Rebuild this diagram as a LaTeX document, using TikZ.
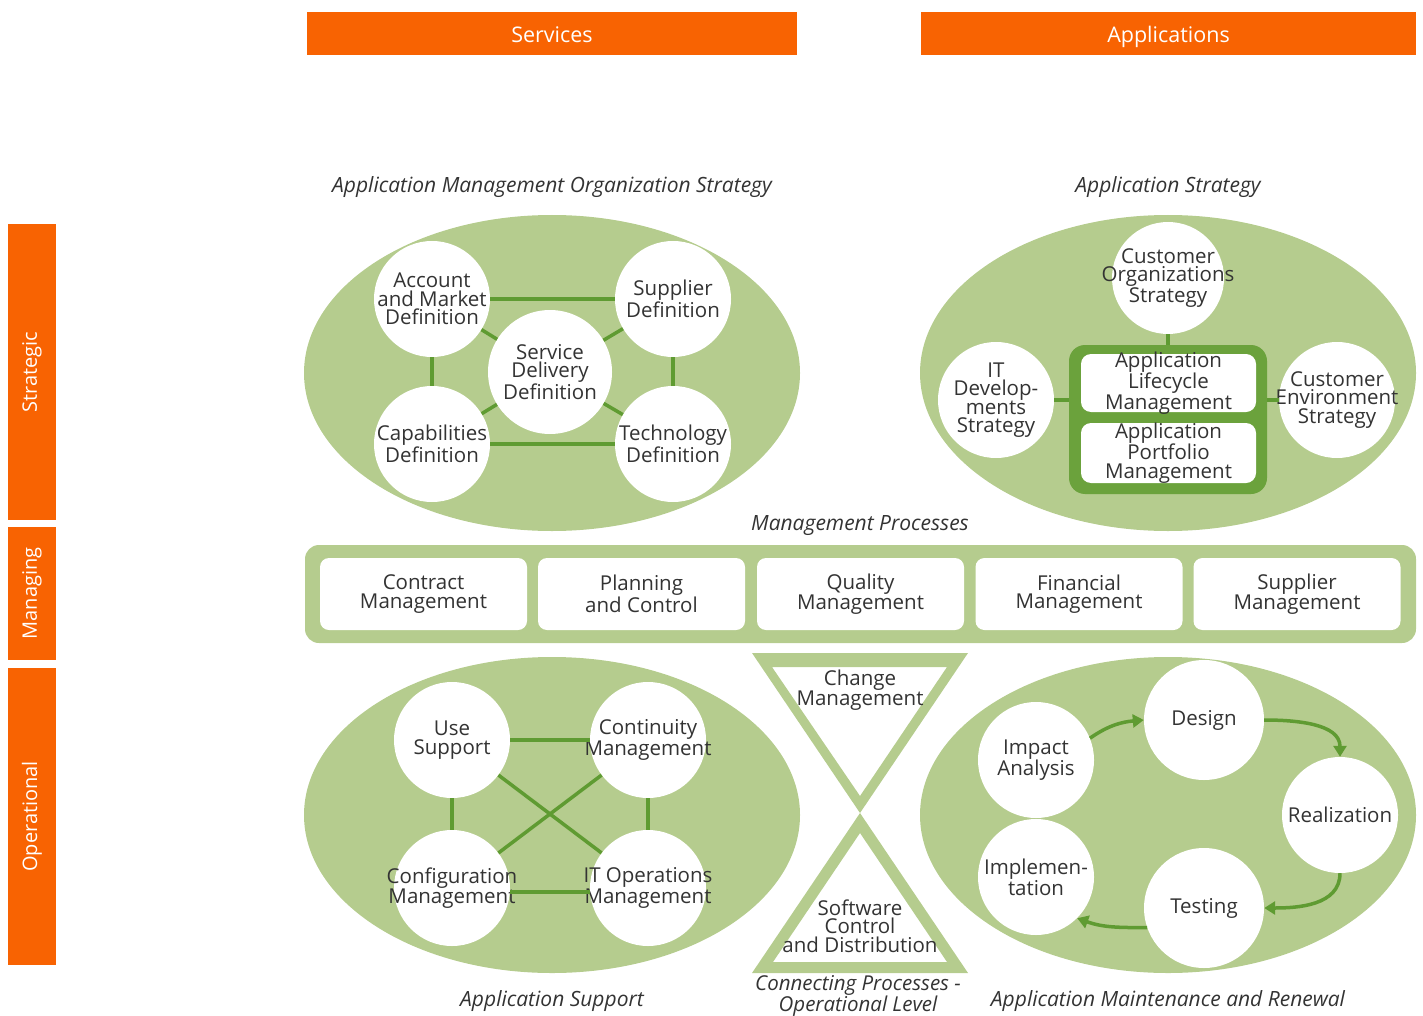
\documentclass[tikz,border=0pt]{standalone}
\usepackage{fontspec}
\setmainfont{Open Sans}
\usetikzlibrary{arrows.meta,shapes.geometric}
\definecolor{orng}{HTML}{F86302}
\definecolor{lgreen}{HTML}{B5CC8E}
\definecolor{dgreen}{HTML}{5F9B32}
\definecolor{bgreen}{HTML}{6BA23C}
\definecolor{txt}{HTML}{333333}
\begin{document}
\begin{tikzpicture}[x=1pt,y=-1pt,
  font=\fontsize{20.5}{18.5}\selectfont, text=txt,
  hdr/.style={fill=orng, minimum height=43pt, inner sep=0pt, text=white, text height=20pt, text depth=1.5pt, font=\fontsize{21.5}{20}\selectfont},
  side/.style={fill=orng, minimum height=48pt, inner sep=0pt, rotate=90, text=white, font=\fontsize{20}{20}\selectfont},
  ttl/.style={font=\fontsize{21}{17.5}\selectfont\itshape, align=center},
  ell/.style={ellipse, fill=lgreen, minimum width=496pt, minimum height=316pt, inner sep=0pt},
  circ/.style={circle, fill=white, minimum size=116pt, inner sep=0pt, label={[align=center, text=txt]center:#1}},
  pbox/.style={rounded corners=9pt, fill=white, minimum width=207pt, minimum height=72pt, inner sep=0pt, label={[align=center, text=txt]center:#1}},
  link/.style={draw=dgreen, line width=3.5pt},
  arr/.style={draw=dgreen, line width=3.5pt, -{Triangle[length=11pt,width=13pt]}}
]
\useasboundingbox (0,0) rectangle (1423,1016);

% headers
\node[hdr, minimum width=490pt] (services) at (552,33.5) {Services};
\node[hdr, minimum width=495pt] (apps) at (1168.5,33.5) {Applications};
\node[side, minimum width=296pt] (strat) at (32,372) {Strategic};
\node[side, minimum width=133pt] (manag) at (32,593.5) {Managing};
\node[side, minimum width=297pt] (oper) at (32,816.5) {Operational};

% titles
\node[ttl] (t1) at (552,187) {Application Management Organization Strategy};
\node[ttl] (t2) at (1168,187) {Application Strategy};
\node[ttl] (t3) at (860,526) {Management Processes};
\node[ttl] (t4) at (552,1001) {Application Support};
\node[ttl, font=\fontsize{20.5}{16}\selectfont\itshape] (t5) at (858,996) {Connecting Processes -\\Operational Level};
\node[ttl] (t6) at (1168,1001) {Application Maintenance and Renewal};

% ellipses
\node[ell] (e1) at (552,373) {};
\node[ell] (e2) at (1168,373) {};
\node[ell] (e3) at (552,815) {};
\node[ell] (e4) at (1168,815) {};

% top-left circles
\node[circ={Account\\and Market\\Definition}] (acc) at (432,299) {};
\node[circ={Supplier\\Definition}] (sup) at (673,299) {};
\node[circ={Service\\Delivery\\Definition}, minimum size=124pt] (sdd) at (550,372) {};
\node[circ={Capabilities\\Definition}] (cap) at (432,444) {};
\node[circ={Technology\\Definition}] (tec) at (673,444) {};
\draw[link] (acc) -- (sup);
\draw[link] (cap) -- (tec);
\draw[link] (acc) -- (cap);
\draw[link] (sup) -- (tec);
\draw[link] (sdd) -- (acc);
\draw[link] (sdd) -- (sup);
\draw[link] (sdd) -- (cap);
\draw[link] (sdd) -- (tec);

% top-right
\node[circ={Customer\\Organizations\\Strategy}, minimum size=112pt] (cos) at (1168,278) {};
\node[circ={IT\\Develop-\\ments\\Strategy}] (itd) at (996,400) {};
\node[circ={Customer\\Environment\\Strategy}] (ces) at (1337,400) {};
\node[rounded corners=16pt, fill=bgreen, minimum width=198pt, minimum height=149pt] (cbox) at (1168,419.5) {};
\node[pbox={Application\\Lifecycle\\Management}, rounded corners=10pt, minimum width=175pt, minimum height=58pt] (alm) at (1168.5,383) {};
\node[pbox={Application\\Portfolio\\Management}, rounded corners=10pt, minimum width=175pt, minimum height=60pt] (apm) at (1168.5,453) {};
\draw[link] (cos) -- (cos |- cbox.north);
\draw[link] (itd) -- (itd -| cbox.west);
\draw[link] (cbox.east |- ces) -- (ces);

% management processes
\node[rounded corners=14pt, fill=lgreen, minimum width=1111pt, minimum height=98pt] (mbar) at (860.5,594) {};
\node[pbox={Contract\\Management}] (p1) at (423.5,594) {};
\node[pbox={Planning\\and Control}] (p2) at (641.5,594) {};
\node[pbox={Quality\\Management}] (p3) at (860.5,594) {};
\node[pbox={Financial\\Management}] (p4) at (1079,594) {};
\node[pbox={Supplier\\Management}] (p5) at (1297,594) {};

% hourglass
\fill[lgreen, even odd rule] (752,653) -- (968,653) -- (860,813) -- cycle
  (772,667) -- (947,667) -- (860,796) -- cycle;
\fill[lgreen, even odd rule] (752,973) -- (968,973) -- (860,813) -- cycle
  (773,962) -- (947,962) -- (860,833) -- cycle;
\node[align=center] (chg) at (860,690) {Change\\Management};
\node[align=center] (scd) at (860,926) {Software\\Control\\and Distribution};

% bottom-left
\node[circ={Use\\Support}] (use) at (452,740) {};
\node[circ={Continuity\\Management}] (con) at (648,740) {};
\node[circ={Configuration\\Management}] (cfg) at (452,888) {};
\node[circ={IT Operations\\Management}] (ito) at (648,888) {};
\draw[link] (use) -- (con);
\draw[link] (cfg.east |- 0,892) -- (ito.west |- 0,892);
\draw[link] (use) -- (cfg);
\draw[link] (con) -- (ito);
\draw[link] (use) -- (ito);
\draw[link] (con) -- (cfg);

% bottom-right
\node[circ={Impact\\Analysis}] (imp) at (1036,760) {};
\node[circ={Design}, minimum size=120pt] (des) at (1204,720) {};
\node[circ={Realization}] (rea) at (1340,815) {};
\node[circ={Testing}, minimum size=120pt] (tes) at (1204,908) {};
\node[circ={Implemen-\\tation}] (iml) at (1036,877) {};
\draw[arr] (imp.22) to[out=35,in=185] (des.180);
\draw[arr] (des.0) to[out=0,in=90] (rea.90);
\draw[arr] (rea.270) to[out=270,in=0] (tes.0);
\draw[arr] (tes.199) to[out=180,in=-20] (iml.-45);
\end{tikzpicture}
\end{document}
